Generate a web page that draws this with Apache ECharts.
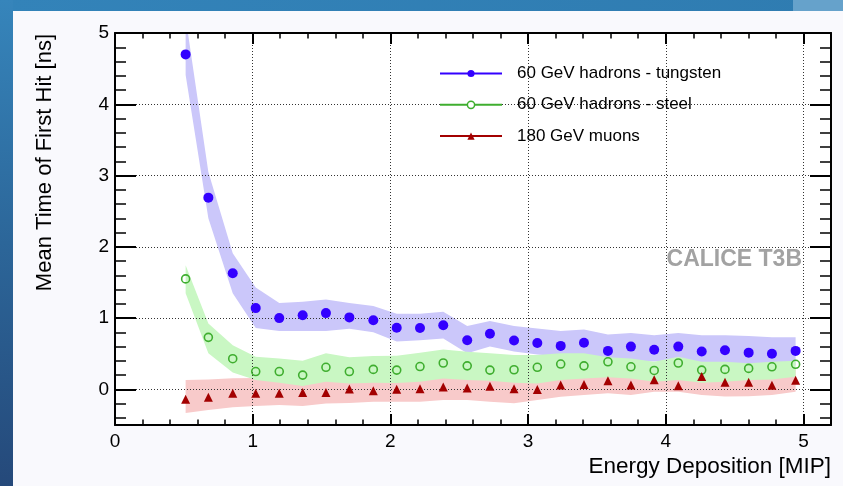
<!DOCTYPE html>
<html>
<head>
<meta charset="utf-8">
<script src="https://cdn.jsdelivr.net/npm/echarts@6/dist/echarts.min.js"></script>
<style>
  html, body { margin: 0; padding: 0; background: #f9f9fd; }
  #chart { width: 843px; height: 486px; }
</style>
</head>
<body>
<div id="chart"></div>
<script>
// Energy bins (bin centres, MIP)
const energyMip = [0.513, 0.678, 0.855, 1.022, 1.193, 1.363, 1.532, 1.702, 1.876, 2.046,
  2.215, 2.384, 2.558, 2.723, 2.898, 3.067, 3.237, 3.406, 3.580, 3.747,
  3.916, 4.091, 4.261, 4.430, 4.602, 4.771, 4.943];

// Mean time of first hit [ns]
const tungstenTime = [4.70, 2.69, 1.63, 1.14, 1.00, 1.04, 1.07, 1.01, 0.97, 0.865,
  0.86, 0.90, 0.69, 0.78, 0.685, 0.65, 0.61, 0.655, 0.54, 0.60,
  0.555, 0.60, 0.53, 0.55, 0.515, 0.50, 0.54];
const steelTime = [1.55, 0.73, 0.43, 0.25, 0.25, 0.20, 0.31, 0.25, 0.28, 0.27,
  0.32, 0.37, 0.33, 0.27, 0.275, 0.31, 0.355, 0.33, 0.387, 0.317,
  0.265, 0.37, 0.27, 0.28, 0.294, 0.317, 0.352];
const muonTime = [-0.14, -0.11, -0.055, -0.055, -0.055, -0.045, -0.045, 0.005, -0.02, 0.0,
  0.007, 0.033, 0.02, 0.043, 0.007, -0.003, 0.06, 0.067, 0.122, 0.06,
  0.135, 0.05, 0.18, 0.10, 0.10, 0.058, 0.127];

// Systematic uncertainty bands (lower / upper edge)
const tungstenLow = [4.41, 2.40, 1.35, 0.86, 0.82, 0.82, 0.82, 0.85, 0.80, 0.67,
  0.69, 0.715, 0.505, 0.60, 0.53, 0.49, 0.46, 0.48, 0.39, 0.41,
  0.39, 0.42, 0.365, 0.365, 0.34, 0.33, 0.34];
const tungstenHigh = [5.22, 3.05, 1.91, 1.43, 1.21, 1.23, 1.26, 1.21, 1.17, 1.06,
  1.06, 1.09, 0.89, 0.96, 0.89, 0.855, 0.82, 0.84, 0.77, 0.79,
  0.76, 0.79, 0.76, 0.76, 0.75, 0.73, 0.73];
const steelLow = [1.35, 0.505, 0.235, 0.13, 0.093, 0.046, 0.107, 0.084, 0.093, 0.09,
  0.107, 0.154, 0.13, 0.12, 0.093, 0.084, 0.13, 0.154, 0.17, 0.154,
  0.107, 0.13, 0.093, 0.107, 0.13, 0.14, 0.177];
const steelHigh = [1.74, 0.925, 0.62, 0.457, 0.434, 0.40, 0.505, 0.449, 0.467, 0.47,
  0.514, 0.561, 0.528, 0.505, 0.481, 0.481, 0.505, 0.505, 0.45, 0.434,
  0.387, 0.457, 0.387, 0.387, 0.365, 0.387, 0.40];
const muonLow = [-0.33, -0.29, -0.25, -0.235, -0.22, -0.235, -0.20, -0.19, -0.175, -0.175,
  -0.175, -0.15, -0.15, -0.175, -0.195, -0.15, -0.105, -0.08, -0.056, -0.08,
  -0.033, -0.033, -0.08, -0.10, -0.095, -0.08, -0.035];
const muonHigh = [0.13, 0.14, 0.155, 0.16, 0.16, 0.16, 0.17, 0.19, 0.18, 0.19,
  0.20, 0.22, 0.20, 0.22, 0.20, 0.20, 0.24, 0.25, 0.28, 0.25,
  0.30, 0.25, 0.33, 0.27, 0.27, 0.25, 0.30];

const seriesNames = ['60 GeV hadrons - tungsten', '60 GeV hadrons - steel', '180 GeV muons'];

// Axis ticks
const xMajorTicks = [0, 1, 2, 3, 4, 5];
const xMinorTicks = [0.2, 0.4, 0.6, 0.8, 1.2, 1.4, 1.6, 1.8, 2.2, 2.4, 2.6, 2.8,
  3.2, 3.4, 3.6, 3.8, 4.2, 4.4, 4.6, 4.8];
const yMajorTicks = [0, 1, 2, 3, 4, 5];
const yMinorTicks = [-0.4, -0.2, 0.2, 0.4, 0.6, 0.8, 1.2, 1.4, 1.6, 1.8, 2.2, 2.4, 2.6, 2.8,
  3.2, 3.4, 3.6, 3.8, 4.2, 4.4, 4.6, 4.8];

const FONT = "'Liberation Sans', Arial, Helvetica, sans-serif";
const BLUE = '#3300ff', GREEN = '#3fae2f', RED = '#a30000';

const chart = echarts.init(document.getElementById('chart'), null, { renderer: 'canvas' });

const X_RANGE = { min: 0, max: 5.2 };
const Y_RANGE = { min: -0.5, max: 5 };
const frameLine = { color: '#000', width: 2 };
const gridLine = { show: true, lineStyle: { color: '#333', width: 1, type: [1, 2] } };

function xAxisDef(position, ticks, tickLen, tickWidth, withLine, withLabels, withGrid) {
  return Object.assign({
    type: 'value', position, z: 3,
    axisLine: { show: withLine, onZero: false, lineStyle: frameLine },
    axisTick: { show: true, inside: true, length: tickLen, customValues: ticks,
      lineStyle: { color: '#000', width: tickWidth } },
    axisLabel: withLabels
      ? { show: true, customValues: ticks, margin: 7, color: '#000', fontSize: 19, fontFamily: FONT }
      : { show: false },
    splitLine: withGrid ? gridLine : { show: false },
    minorTick: { show: false }
  }, X_RANGE);
}

function yAxisDef(position, ticks, tickLen, tickWidth, withLine, withLabels, withGrid) {
  return Object.assign({
    type: 'value', position, z: 3,
    axisLine: { show: withLine, onZero: false, lineStyle: frameLine },
    axisTick: { show: true, inside: true, length: tickLen, customValues: ticks,
      lineStyle: { color: '#000', width: tickWidth } },
    axisLabel: withLabels
      ? { show: true, customValues: ticks, margin: 6, color: '#000', fontSize: 19, fontFamily: FONT }
      : { show: false },
    splitLine: withGrid ? gridLine : { show: false },
    minorTick: { show: false }
  }, Y_RANGE);
}

// Filled band between a lower and an upper edge, drawn as one polygon
function bandSeries(id, low, high, fill) {
  return {
    id, type: 'custom', xAxisIndex: 0, yAxisIndex: 0,
    clip: true, silent: true, z: 2,
    data: energyMip.map((x, i) => [x, low[i], high[i]]),
    encode: { x: 0, y: [1, 2] },
    renderItem(params, api) {
      if (params.dataIndex !== 0) return null;
      const pts = [];
      for (let i = 0; i < energyMip.length; i++) pts.push(api.coord([energyMip[i], high[i]]));
      for (let i = energyMip.length - 1; i >= 0; i--) pts.push(api.coord([energyMip[i], low[i]]));
      return { type: 'polygon', shape: { points: pts }, style: { fill } };
    }
  };
}

function pointSeries(name, values, symbol, size, itemStyle) {
  return {
    name, type: 'line', xAxisIndex: 0, yAxisIndex: 0, z: 4,
    data: energyMip.map((x, i) => [x, values[i]]),
    symbol, symbolSize: size, showAllSymbol: true,
    itemStyle, lineStyle: { width: 0 },
    emphasis: { disabled: true }, silent: true
  };
}

chart.setOption({
  animation: false,
  backgroundColor: '#f9f9fd',
  grid: { left: 115, top: 33, right: 12, bottom: 61, show: true,
    backgroundColor: '#ffffff', borderWidth: 0, outerBoundsMode: 'none' },
  xAxis: [
    xAxisDef('bottom', xMajorTicks, 11, 2, true, true, true),
    xAxisDef('bottom', xMinorTicks, 5.5, 1.5, false, false, false),
    xAxisDef('top', xMajorTicks, 11, 2, true, false, false),
    xAxisDef('top', xMinorTicks, 5.5, 1.5, false, false, false)
  ],
  yAxis: [
    yAxisDef('left', yMajorTicks, 21, 2, true, true, true),
    yAxisDef('left', yMinorTicks, 11, 1.5, false, false, false),
    yAxisDef('right', yMajorTicks, 21, 2, true, false, false),
    yAxisDef('right', yMinorTicks, 11, 1.5, false, false, false)
  ],
  legend: {
    orient: 'vertical', left: 434, top: 60,
    itemWidth: 62, itemHeight: 9, itemGap: 14.3,
    selectedMode: false,
    formatter: name => '{t|' + name + '}',
    textStyle: {
      color: '#000', fontSize: 17, fontFamily: FONT,
      rich: { t: { color: '#000', fontSize: 17, fontFamily: FONT, padding: [0, 0, 0, 10] } }
    },
    data: [
      { name: seriesNames[0], lineStyle: { color: BLUE, width: 2, opacity: 1 },
        itemStyle: { color: BLUE } },
      { name: seriesNames[1], lineStyle: { color: GREEN, width: 2, opacity: 1 },
        itemStyle: { color: '#ffffff', borderColor: GREEN, borderWidth: 1.5 } },
      { name: seriesNames[2], lineStyle: { color: RED, width: 2, opacity: 1 },
        itemStyle: { color: RED } }
    ]
  },
  graphic: [
    // slide frame around the figure
    { type: 'rect', z: -10, silent: true, shape: { x: 0, y: 0, width: 843, height: 11 },
      style: { fill: { type: 'linear', x: 0, y: 0, x2: 1, y2: 0,
        colorStops: [{ offset: 0, color: '#3383b9' }, { offset: 1, color: '#2f7cb1' }] } } },
    { type: 'rect', z: -9, silent: true, shape: { x: 793, y: 0, width: 50, height: 11 },
      style: { fill: '#66a2cb' } },
    { type: 'rect', z: -9, silent: true, shape: { x: 0, y: 0, width: 13, height: 486 },
      style: { fill: { type: 'linear', x: 0, y: 0, x2: 0, y2: 1,
        colorStops: [{ offset: 0, color: '#3685bb' }, { offset: 0.5, color: '#2c6699' },
          { offset: 1, color: '#25497a' }] } } },
    // axis titles and label
    { type: 'text', x: 45, y: 34, rotation: Math.PI / 2, silent: true,
      style: { text: 'Mean Time of First Hit [ns]', fill: '#000', fontSize: 22,
        fontFamily: FONT, textAlign: 'right', textVerticalAlign: 'middle' } },
    { type: 'text', x: 831, y: 467, silent: true,
      style: { text: 'Energy Deposition [MIP]', fill: '#000', fontSize: 22.5,
        fontFamily: FONT, textAlign: 'right', textVerticalAlign: 'middle' } },
    { type: 'text', x: 802, y: 260, silent: true,
      style: { text: 'CALICE T3B', fill: '#a2a2a2', fontSize: 23, fontWeight: 'bold',
        fontFamily: FONT, textAlign: 'right', textVerticalAlign: 'middle' } }
  ],
  series: [
    bandSeries('tungstenBand', tungstenLow, tungstenHigh, '#cbc7fa'),
    bandSeries('muonBand', muonLow, muonHigh, '#f8caca'),
    bandSeries('steelBand', steelLow, steelHigh, '#c9f7c3'),
    pointSeries(seriesNames[0], tungstenTime, 'circle', 10, { color: BLUE }),
    pointSeries(seriesNames[1], steelTime, 'circle', 8,
      { color: 'rgba(0,0,0,0)', borderColor: GREEN, borderWidth: 1.6 }),
    pointSeries(seriesNames[2], muonTime, 'triangle', 9, { color: RED })
  ]
});
</script>
</body>
</html>
